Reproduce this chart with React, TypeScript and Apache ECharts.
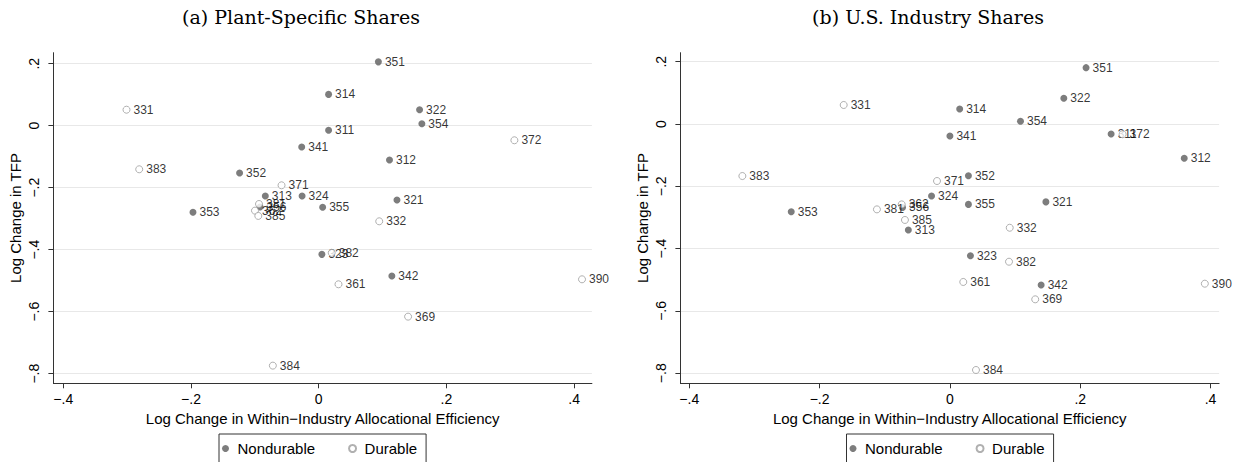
import React, { useEffect, useRef } from "react";
import * as echarts from "echarts";

// ---------- data: (a) Plant-Specific Shares ----------
const plantNondurableCodes = ["351", "314", "322", "354", "311", "341", "312", "352", "313", "324", "321", "355", "353", "356", "323", "342"];
const plantNondurableX = [0.0935, 0.0155, 0.158, 0.1616, 0.0155, -0.0266, 0.1109, -0.1239, -0.0836, -0.026, 0.1226, 0.0062, -0.1969, -0.0919, 0.005, 0.1146];
const plantNondurableY = [0.206, 0.101, 0.0516, 0.0065, -0.0148, -0.0687, -0.1106, -0.1526, -0.2268, -0.2268, -0.2397, -0.2632, -0.2794, -0.2623, -0.415, -0.4848];

const plantDurableCodes = ["331", "372", "383", "371", "332", "381", "362", "385", "382", "361", "390", "369", "384"];
const plantDurableX = [-0.301, 0.3065, -0.2811, -0.0582, 0.0948, -0.0935, -0.0998, -0.0946, 0.0204, 0.031, 0.4124, 0.14, -0.0718];
const plantDurableY = [0.0516, -0.047, -0.1406, -0.1923, -0.3084, -0.2526, -0.274, -0.291, -0.41, -0.5116, -0.4955, -0.616, -0.774];

// ---------- data: (b) U.S. Industry Shares ----------
const usNondurableCodes = ["351", "322", "314", "354", "311", "341", "312", "352", "324", "356", "355", "321", "353", "313", "323", "342"];
const usNondurableX = [0.2089, 0.1748, 0.015, 0.1083, 0.2474, 0.0, 0.3596, 0.0284, -0.0282, -0.0727, 0.0284, 0.1473, -0.2435, -0.0638, 0.0315, 0.14];
const usNondurableY = [0.1808, 0.0824, 0.0481, 0.0086, -0.0321, -0.0385, -0.11, -0.166, -0.231, -0.268, -0.258, -0.25, -0.2815, -0.34, -0.4227, -0.5167];

const usDurableCodes = ["331", "372", "383", "371", "362", "381", "385", "332", "382", "361", "390", "369", "384"];
const usDurableX = [-0.163, 0.265, -0.3185, -0.0198, -0.074, -0.112, -0.069, 0.0918, 0.0907, 0.0205, 0.3912, 0.1309, 0.04];
const usDurableY = [0.061, -0.033, -0.167, -0.183, -0.258, -0.274, -0.308, -0.333, -0.442, -0.507, -0.5125, -0.5627, -0.7895];

// ---------- axes ----------
const xTickValues = [-0.4, -0.2, 0, 0.2, 0.4];
const yTickValues = [-0.8, -0.6, -0.4, -0.2, 0, 0.2];
const panelTitles = ["(a) Plant-Specific Shares", "(b) U.S. Industry Shares"];
const xAxisTitle = "Log Change in Within\u2212Industry Allocational Efficiency";
const yAxisTitle = "Log Change in TFP";
const groupNames = ["Nondurable", "Durable"];

const SANS = "'Liberation Sans', Arial, Helvetica, sans-serif";
const SERIF = "'DejaVu Serif', 'Liberation Serif', serif";
const AXIS_COLOR = "#333";
const FILLED = "#5c5c5c";
const HOLLOW = "#9c9c9c";

const fmt = (v: number) => {
  if (Math.abs(v) < 1e-9) return "0";
  const s = Math.abs(v).toFixed(1).replace(/^0/, "");
  return (v < 0 ? "\u2212" : "") + s;
};

const toData = (codes: string[], xs: number[], ys: number[]) =>
  codes.map((c, i) => ({ name: c, value: [xs[i], ys[i]] }));

function makeXAxis(gridIndex: number, min: number, max: number) {
  return {
    type: "value",
    gridIndex,
    min,
    max,
    axisLine: { show: true, onZero: false, lineStyle: { color: AXIS_COLOR, width: 1 } },
    axisTick: { show: true, length: 5, customValues: xTickValues, lineStyle: { color: AXIS_COLOR, width: 1 } },
    axisLabel: { customValues: xTickValues, formatter: fmt, fontSize: 14, color: "#000", fontFamily: SANS, margin: 9 },
    splitLine: { show: false },
    name: xAxisTitle,
    nameLocation: "middle",
    nameGap: 25,
    nameTextStyle: { fontSize: 15, color: "#000", fontFamily: SANS },
  };
}

function makeYAxis(gridIndex: number, min: number, max: number) {
  return {
    type: "value",
    gridIndex,
    min,
    max,
    axisLine: { show: true, onZero: false, lineStyle: { color: AXIS_COLOR, width: 1 } },
    axisTick: { show: true, length: 5, customValues: yTickValues, lineStyle: { color: AXIS_COLOR, width: 1 } },
    axisLabel: { customValues: yTickValues, formatter: fmt, fontSize: 14, color: "#000", fontFamily: SANS, margin: 12, rotate: 90 },
    splitLine: { show: true, lineStyle: { color: "#e8e8e8", width: 1 } },
    name: yAxisTitle,
    nameLocation: "middle",
    nameRotate: 90,
    nameGap: 30,
    nameTextStyle: { fontSize: 15, color: "#000", fontFamily: SANS },
  };
}

const labelStyle = {
  show: true,
  formatter: "{b}",
  position: "right",
  distance: 3,
  fontSize: 12,
  color: "#000",
  fontFamily: SANS,
};

function makeSeries(idx: number, group: number, data: any[]) {
  return {
    type: "scatter",
    name: groupNames[group],
    xAxisIndex: idx,
    yAxisIndex: idx,
    symbol: "circle",
    symbolSize: 7,
    data,
    itemStyle:
      group === 0
        ? { color: FILLED, borderWidth: 0 }
        : { color: "#ffffff", borderColor: HOLLOW, borderWidth: 1 },
    label: labelStyle,
    emphasis: { disabled: true },
    z: group === 0 ? 2 : 3,
  };
}

function makeLegend(left: number) {
  return {
    left,
    top: 434,
    orient: "horizontal",
    data: groupNames.map((n) => ({ name: n, icon: "circle" })),
    itemWidth: 14,
    itemHeight: 7,
    itemGap: 33,
    borderColor: AXIS_COLOR,
    borderWidth: 1,
    borderRadius: 0,
    padding: [7, 9, 7, 3],
    selectedMode: false,
    textStyle: { fontSize: 15, color: "#000", fontFamily: SANS },
  };
}

export default function App() {
  const ref = useRef<HTMLDivElement>(null);
  useEffect(() => {
    if (!ref.current) return;
    const chart = echarts.init(ref.current, null, { renderer: "svg" });
    const option: any = {
      animation: false,
      backgroundColor: "#ffffff",
      grid: [
        { left: 53.4, top: 52.7, width: 538.5, height: 330.6 },
        { left: 680.4, top: 52.7, width: 538.7, height: 330.6 },
      ],
      xAxis: [makeXAxis(0, -0.4155, 0.4279), makeXAxis(1, -0.4136, 0.4131)],
      yAxis: [makeYAxis(0, -0.831, 0.2355), makeYAxis(1, -0.8322, 0.2288)],
      legend: [makeLegend(219), makeLegend(846.5)],
      graphic: [
        {
          type: "text",
          x: 301,
          y: 17,
          style: { text: panelTitles[0], textAlign: "center", textVerticalAlign: "middle", fontSize: 19, fontFamily: SERIF, fill: "#000" },
        },
        {
          type: "text",
          x: 928,
          y: 17,
          style: { text: panelTitles[1], textAlign: "center", textVerticalAlign: "middle", fontSize: 19, fontFamily: SERIF, fill: "#000" },
        },
      ],
      series: [
        makeSeries(0, 0, toData(plantNondurableCodes, plantNondurableX, plantNondurableY)),
        makeSeries(0, 1, toData(plantDurableCodes, plantDurableX, plantDurableY)),
        makeSeries(1, 0, toData(usNondurableCodes, usNondurableX, usNondurableY)),
        makeSeries(1, 1, toData(usDurableCodes, usDurableX, usDurableY)),
      ],
    };
    chart.setOption(option);
    return () => chart.dispose();
  }, []);
  return (
    <div
      ref={ref}
      style={{ position: "absolute", left: 0, top: 0, width: 1243, height: 462, background: "#fff" }}
    />
  );
}
